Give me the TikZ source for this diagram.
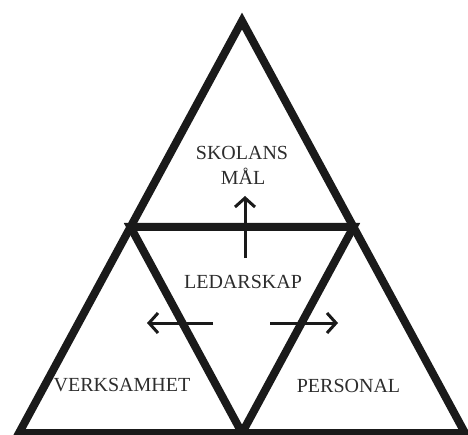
\documentclass[tikz,border=0pt]{standalone}
\usepackage{fontspec}
\setmainfont{Liberation Serif}
\usetikzlibrary{arrows.meta,calc}
\definecolor{ink}{RGB}{26,26,26}
\definecolor{txt}{RGB}{45,45,45}
\tikzset{
  edge/.style={draw=ink, line width=8pt, line join=miter},
  pointer/.style={draw=ink, line width=3pt, -{Straight Barb[length=9pt,width=20pt,line width=3pt]}},
  lbl/.style={text=txt, font=\fontsize{20}{25}\selectfont, inner sep=0pt, anchor=base, align=center}
}
\begin{document}
\begin{tikzpicture}[x=1pt,y=1pt]
\useasboundingbox (0,0) rectangle (468,434);
% outer triangle vertices
\coordinate (A) at (242,413);
\coordinate (BL) at (19,1);
\coordinate (BR) at (465,1);
% inner (midpoint) vertices
\coordinate (ML) at ($(A)!0.5!(BL)$);
\coordinate (MR) at ($(A)!0.5!(BR)$);
\coordinate (MB) at ($(BL)!0.5!(BR)$);
\path[edge] (A) -- (BL) -- (BR) -- cycle;
\path[edge] (ML) -- (MR) -- (MB) -- cycle;
% labels
\node[lbl] (skolans) at (242,274) {SKOLANS};
\node[lbl] (mal) at (243,249) {MÅL};
\node[lbl] (ledarskap) at (243,146) {LEDARSKAP};
\node[lbl] (verksamhet) at (122,43) {VERKSAMHET};
\node[lbl] (personal) at (348.5,42) {PERSONAL};
% arrows
\coordinate (upS) at (245,176);
\coordinate (upE) at (245,238);
\coordinate (lS) at (213,111);
\coordinate (lE) at (147,111);
\coordinate (rS) at (270,111);
\coordinate (rE) at (338,111);
\draw[pointer] (upS) -- (upE);
\draw[pointer] (lS) -- (lE);
\draw[pointer] (rS) -- (rE);
\end{tikzpicture}
\end{document}
